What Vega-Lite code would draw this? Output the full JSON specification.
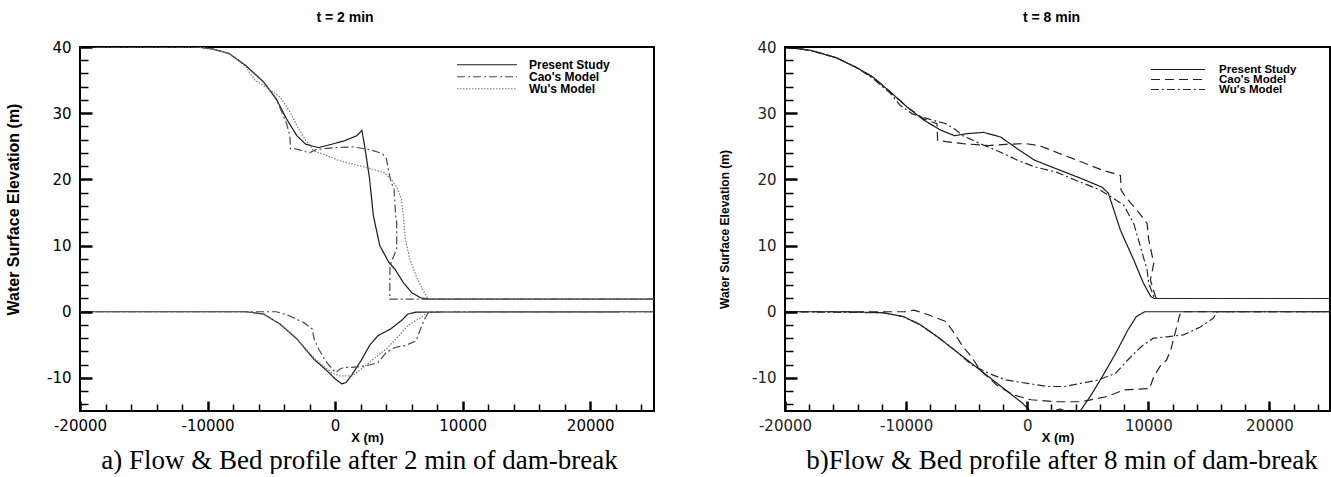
{
"$schema":"https://vega.github.io/schema/vega-lite/v6.json",
"background":"white",
"padding":{"left":4,"top":10,"right":0,"bottom":0},
"config":{"view":{"stroke":"#000","strokeWidth":2},"font":"Liberation Sans","concat":{"spacing":62}},
"datasets":{
"a":[
{"m":"Present Study","k":"s","x":-20000,"y":40},{"m":"Present Study","k":"s","x":-10800,"y":40},{"m":"Present Study","k":"s","x":-9600,"y":39.7},{"m":"Present Study","k":"s","x":-8300,"y":39.0},{"m":"Present Study","k":"s","x":-7000,"y":37.2},{"m":"Present Study","k":"s","x":-5600,"y":34.7},{"m":"Present Study","k":"s","x":-4600,"y":32.1},{"m":"Present Study","k":"s","x":-3800,"y":29.1},{"m":"Present Study","k":"s","x":-3000,"y":26.6},{"m":"Present Study","k":"s","x":-2300,"y":25.3},{"m":"Present Study","k":"s","x":-1300,"y":24.8},{"m":"Present Study","k":"s","x":-300,"y":25.3},{"m":"Present Study","k":"s","x":700,"y":25.8},{"m":"Present Study","k":"s","x":1700,"y":26.6},{"m":"Present Study","k":"s","x":2100,"y":27.4},{"m":"Present Study","k":"s","x":2360,"y":24.5},{"m":"Present Study","k":"s","x":2700,"y":20.1},{"m":"Present Study","k":"s","x":3000,"y":14.5},{"m":"Present Study","k":"s","x":3500,"y":10.0},{"m":"Present Study","k":"s","x":4200,"y":7.5},{"m":"Present Study","k":"s","x":4700,"y":6.4},{"m":"Present Study","k":"s","x":5350,"y":4.4},{"m":"Present Study","k":"s","x":6000,"y":2.9},{"m":"Present Study","k":"s","x":6700,"y":2.1},{"m":"Present Study","k":"s","x":7350,"y":1.9},{"m":"Present Study","k":"s","x":25000,"y":1.9},
{"m":"Cao's Model","k":"s","x":-20000,"y":40},{"m":"Cao's Model","k":"s","x":-10800,"y":40},{"m":"Cao's Model","k":"s","x":-9600,"y":39.7},{"m":"Cao's Model","k":"s","x":-8300,"y":39.0},{"m":"Cao's Model","k":"s","x":-7000,"y":37.2},{"m":"Cao's Model","k":"s","x":-5600,"y":34.7},{"m":"Cao's Model","k":"s","x":-4600,"y":32.1},{"m":"Cao's Model","k":"s","x":-3800,"y":28.4},{"m":"Cao's Model","k":"s","x":-3550,"y":26.6},{"m":"Cao's Model","k":"s","x":-3500,"y":24.6},{"m":"Cao's Model","k":"s","x":-3300,"y":24.7},{"m":"Cao's Model","k":"s","x":-2000,"y":24.0},{"m":"Cao's Model","k":"s","x":-1500,"y":24.5},{"m":"Cao's Model","k":"s","x":0,"y":24.8},{"m":"Cao's Model","k":"s","x":1400,"y":24.9},{"m":"Cao's Model","k":"s","x":2700,"y":24.5},{"m":"Cao's Model","k":"s","x":3700,"y":23.9},{"m":"Cao's Model","k":"s","x":4030,"y":23.1},{"m":"Cao's Model","k":"s","x":4200,"y":21.1},{"m":"Cao's Model","k":"s","x":4400,"y":19.6},{"m":"Cao's Model","k":"s","x":4620,"y":18.5},{"m":"Cao's Model","k":"s","x":4750,"y":14.5},{"m":"Cao's Model","k":"s","x":4830,"y":13.5},{"m":"Cao's Model","k":"s","x":4830,"y":9.5},{"m":"Cao's Model","k":"s","x":4510,"y":8.0},{"m":"Cao's Model","k":"s","x":4300,"y":6.9},{"m":"Cao's Model","k":"s","x":4290,"y":1.9},{"m":"Cao's Model","k":"s","x":25000,"y":1.9},
{"m":"Wu's Model","k":"s","x":-20000,"y":40},{"m":"Wu's Model","k":"s","x":-10800,"y":40},{"m":"Wu's Model","k":"s","x":-9600,"y":39.7},{"m":"Wu's Model","k":"s","x":-8300,"y":39.0},{"m":"Wu's Model","k":"s","x":-7000,"y":37.0},{"m":"Wu's Model","k":"s","x":-6300,"y":35.0},{"m":"Wu's Model","k":"s","x":-5000,"y":33.4},{"m":"Wu's Model","k":"s","x":-4300,"y":32.4},{"m":"Wu's Model","k":"s","x":-3950,"y":31.4},{"m":"Wu's Model","k":"s","x":-3450,"y":29.9},{"m":"Wu's Model","k":"s","x":-2950,"y":27.9},{"m":"Wu's Model","k":"s","x":-2300,"y":25.9},{"m":"Wu's Model","k":"s","x":-1650,"y":24.3},{"m":"Wu's Model","k":"s","x":-650,"y":23.6},{"m":"Wu's Model","k":"s","x":350,"y":22.8},{"m":"Wu's Model","k":"s","x":2000,"y":22.0},{"m":"Wu's Model","k":"s","x":3000,"y":21.5},{"m":"Wu's Model","k":"s","x":3850,"y":21.0},{"m":"Wu's Model","k":"s","x":4350,"y":20.1},{"m":"Wu's Model","k":"s","x":4850,"y":18.8},{"m":"Wu's Model","k":"s","x":5200,"y":17.0},{"m":"Wu's Model","k":"s","x":5350,"y":14.5},{"m":"Wu's Model","k":"s","x":5500,"y":11.0},{"m":"Wu's Model","k":"s","x":5850,"y":8.0},{"m":"Wu's Model","k":"s","x":6350,"y":5.4},{"m":"Wu's Model","k":"s","x":6850,"y":3.4},{"m":"Wu's Model","k":"s","x":7300,"y":1.9},{"m":"Wu's Model","k":"s","x":25000,"y":1.9},
{"m":"Present Study","k":"b","x":-20000,"y":0},{"m":"Present Study","k":"b","x":-7000,"y":0},{"m":"Present Study","k":"b","x":-5600,"y":-0.35},{"m":"Present Study","k":"b","x":-4300,"y":-1.9},{"m":"Present Study","k":"b","x":-3000,"y":-4.1},{"m":"Present Study","k":"b","x":-1650,"y":-7.2},{"m":"Present Study","k":"b","x":-650,"y":-8.9},{"m":"Present Study","k":"b","x":30,"y":-10.2},{"m":"Present Study","k":"b","x":530,"y":-10.9},{"m":"Present Study","k":"b","x":860,"y":-10.7},{"m":"Present Study","k":"b","x":1360,"y":-9.4},{"m":"Present Study","k":"b","x":2030,"y":-7.4},{"m":"Present Study","k":"b","x":2700,"y":-5.1},{"m":"Present Study","k":"b","x":3360,"y":-3.6},{"m":"Present Study","k":"b","x":4360,"y":-2.6},{"m":"Present Study","k":"b","x":5190,"y":-1.35},{"m":"Present Study","k":"b","x":5700,"y":-0.35},{"m":"Present Study","k":"b","x":6350,"y":-0.05},{"m":"Present Study","k":"b","x":25000,"y":0},
{"m":"Cao's Model","k":"b","x":-20000,"y":0},{"m":"Cao's Model","k":"b","x":-4600,"y":0},{"m":"Cao's Model","k":"b","x":-3600,"y":-0.6},{"m":"Cao's Model","k":"b","x":-2500,"y":-1.6},{"m":"Cao's Model","k":"b","x":-1800,"y":-2.6},{"m":"Cao's Model","k":"b","x":-1650,"y":-4.1},{"m":"Cao's Model","k":"b","x":-1300,"y":-5.6},{"m":"Cao's Model","k":"b","x":-650,"y":-7.7},{"m":"Cao's Model","k":"b","x":30,"y":-9.2},{"m":"Cao's Model","k":"b","x":360,"y":-8.7},{"m":"Cao's Model","k":"b","x":700,"y":-8.4},{"m":"Cao's Model","k":"b","x":1360,"y":-8.4},{"m":"Cao's Model","k":"b","x":2360,"y":-8.2},{"m":"Cao's Model","k":"b","x":3360,"y":-7.7},{"m":"Cao's Model","k":"b","x":4030,"y":-6.1},{"m":"Cao's Model","k":"b","x":4690,"y":-5.4},{"m":"Cao's Model","k":"b","x":5520,"y":-5.1},{"m":"Cao's Model","k":"b","x":6350,"y":-4.4},{"m":"Cao's Model","k":"b","x":6690,"y":-2.6},{"m":"Cao's Model","k":"b","x":7020,"y":-1.1},{"m":"Cao's Model","k":"b","x":7350,"y":0},{"m":"Cao's Model","k":"b","x":25000,"y":0},
{"m":"Wu's Model","k":"b","x":-20000,"y":0},{"m":"Wu's Model","k":"b","x":-7000,"y":0},{"m":"Wu's Model","k":"b","x":-5600,"y":-0.35},{"m":"Wu's Model","k":"b","x":-4300,"y":-1.9},{"m":"Wu's Model","k":"b","x":-3000,"y":-4.1},{"m":"Wu's Model","k":"b","x":-1650,"y":-7.0},{"m":"Wu's Model","k":"b","x":-300,"y":-9.2},{"m":"Wu's Model","k":"b","x":360,"y":-9.7},{"m":"Wu's Model","k":"b","x":1360,"y":-9.7},{"m":"Wu's Model","k":"b","x":2030,"y":-8.7},{"m":"Wu's Model","k":"b","x":3030,"y":-7.1},{"m":"Wu's Model","k":"b","x":4030,"y":-5.6},{"m":"Wu's Model","k":"b","x":5020,"y":-3.6},{"m":"Wu's Model","k":"b","x":5690,"y":-2.1},{"m":"Wu's Model","k":"b","x":6690,"y":-0.9},{"m":"Wu's Model","k":"b","x":7350,"y":0},{"m":"Wu's Model","k":"b","x":25000,"y":0}
],
"b":[
{"m":"Present Study","k":"s","x":-20000,"y":40},{"m":"Present Study","k":"s","x":-17900,"y":39.5},{"m":"Present Study","k":"s","x":-15800,"y":38.4},{"m":"Present Study","k":"s","x":-14100,"y":36.9},{"m":"Present Study","k":"s","x":-12700,"y":35.4},{"m":"Present Study","k":"s","x":-11300,"y":33.2},{"m":"Present Study","k":"s","x":-9900,"y":30.9},{"m":"Present Study","k":"s","x":-8500,"y":28.9},{"m":"Present Study","k":"s","x":-7100,"y":27.4},{"m":"Present Study","k":"s","x":-6000,"y":26.6},{"m":"Present Study","k":"s","x":-5000,"y":26.9},{"m":"Present Study","k":"s","x":-3600,"y":27.1},{"m":"Present Study","k":"s","x":-2200,"y":26.4},{"m":"Present Study","k":"s","x":-800,"y":24.6},{"m":"Present Study","k":"s","x":600,"y":22.9},{"m":"Present Study","k":"s","x":2400,"y":21.6},{"m":"Present Study","k":"s","x":4500,"y":20.1},{"m":"Present Study","k":"s","x":6200,"y":18.8},{"m":"Present Study","k":"s","x":6700,"y":17.9},{"m":"Present Study","k":"s","x":7700,"y":12.3},{"m":"Present Study","k":"s","x":8800,"y":7.8},{"m":"Present Study","k":"s","x":9600,"y":4.3},{"m":"Present Study","k":"s","x":10200,"y":2.3},{"m":"Present Study","k":"s","x":10500,"y":2.0},{"m":"Present Study","k":"s","x":25000,"y":2.0},
{"m":"Cao's Model","k":"s","x":-20000,"y":40},{"m":"Cao's Model","k":"s","x":-17900,"y":39.5},{"m":"Cao's Model","k":"s","x":-15800,"y":38.4},{"m":"Cao's Model","k":"s","x":-14100,"y":36.9},{"m":"Cao's Model","k":"s","x":-12700,"y":35.4},{"m":"Cao's Model","k":"s","x":-11300,"y":33.2},{"m":"Cao's Model","k":"s","x":-9900,"y":30.9},{"m":"Cao's Model","k":"s","x":-8500,"y":29.1},{"m":"Cao's Model","k":"s","x":-7450,"y":28.4},{"m":"Cao's Model","k":"s","x":-7400,"y":25.9},{"m":"Cao's Model","k":"s","x":-6700,"y":25.7},{"m":"Cao's Model","k":"s","x":-5300,"y":25.4},{"m":"Cao's Model","k":"s","x":-3200,"y":25.1},{"m":"Cao's Model","k":"s","x":-1800,"y":25.3},{"m":"Cao's Model","k":"s","x":-100,"y":25.4},{"m":"Cao's Model","k":"s","x":1000,"y":25.1},{"m":"Cao's Model","k":"s","x":2400,"y":24.1},{"m":"Cao's Model","k":"s","x":4100,"y":22.9},{"m":"Cao's Model","k":"s","x":6200,"y":21.4},{"m":"Cao's Model","k":"s","x":7700,"y":20.6},{"m":"Cao's Model","k":"s","x":7750,"y":18.4},{"m":"Cao's Model","k":"s","x":8100,"y":17.4},{"m":"Cao's Model","k":"s","x":9300,"y":14.8},{"m":"Cao's Model","k":"s","x":9900,"y":13.3},{"m":"Cao's Model","k":"s","x":10030,"y":10.9},{"m":"Cao's Model","k":"s","x":10450,"y":7.3},{"m":"Cao's Model","k":"s","x":10170,"y":4.8},{"m":"Cao's Model","k":"s","x":10590,"y":2.3},{"m":"Cao's Model","k":"s","x":10700,"y":2.0},{"m":"Cao's Model","k":"s","x":25000,"y":2.0},
{"m":"Wu's Model","k":"s","x":-20000,"y":40},{"m":"Wu's Model","k":"s","x":-17900,"y":39.5},{"m":"Wu's Model","k":"s","x":-15800,"y":38.4},{"m":"Wu's Model","k":"s","x":-14100,"y":36.9},{"m":"Wu's Model","k":"s","x":-12700,"y":35.2},{"m":"Wu's Model","k":"s","x":-11300,"y":33.0},{"m":"Wu's Model","k":"s","x":-10500,"y":31.2},{"m":"Wu's Model","k":"s","x":-9500,"y":29.9},{"m":"Wu's Model","k":"s","x":-8100,"y":29.1},{"m":"Wu's Model","k":"s","x":-6700,"y":28.4},{"m":"Wu's Model","k":"s","x":-6000,"y":27.6},{"m":"Wu's Model","k":"s","x":-5300,"y":26.6},{"m":"Wu's Model","k":"s","x":-3900,"y":25.4},{"m":"Wu's Model","k":"s","x":-2200,"y":24.1},{"m":"Wu's Model","k":"s","x":-800,"y":22.9},{"m":"Wu's Model","k":"s","x":600,"y":21.9},{"m":"Wu's Model","k":"s","x":2400,"y":21.1},{"m":"Wu's Model","k":"s","x":4100,"y":19.8},{"m":"Wu's Model","k":"s","x":6000,"y":18.4},{"m":"Wu's Model","k":"s","x":7150,"y":17.1},{"m":"Wu's Model","k":"s","x":7970,"y":16.1},{"m":"Wu's Model","k":"s","x":8800,"y":13.3},{"m":"Wu's Model","k":"s","x":9350,"y":9.8},{"m":"Wu's Model","k":"s","x":9900,"y":6.3},{"m":"Wu's Model","k":"s","x":10030,"y":4.3},{"m":"Wu's Model","k":"s","x":10450,"y":2.3},{"m":"Wu's Model","k":"s","x":10600,"y":2.0},{"m":"Wu's Model","k":"s","x":25000,"y":2.0},
{"m":"Present Study","k":"b","x":-20000,"y":0},{"m":"Present Study","k":"b","x":-15000,"y":0},{"m":"Present Study","k":"b","x":-12000,"y":-0.15},{"m":"Present Study","k":"b","x":-11600,"y":-0.25},{"m":"Present Study","k":"b","x":-10200,"y":-0.75},{"m":"Present Study","k":"b","x":-8800,"y":-2.0},{"m":"Present Study","k":"b","x":-7400,"y":-3.8},{"m":"Present Study","k":"b","x":-6000,"y":-5.8},{"m":"Present Study","k":"b","x":-4600,"y":-7.8},{"m":"Present Study","k":"b","x":-3200,"y":-9.8},{"m":"Present Study","k":"b","x":-1800,"y":-11.8},{"m":"Present Study","k":"b","x":-400,"y":-13.8},{"m":"Present Study","k":"b","x":300,"y":-15.1},{"m":"Present Study","k":"b","x":1500,"y":-15.6},{"m":"Present Study","k":"b","x":2200,"y":-15.0},{"m":"Present Study","k":"b","x":2700,"y":-14.7},{"m":"Present Study","k":"b","x":3300,"y":-15.1},{"m":"Present Study","k":"b","x":4300,"y":-15.2},{"m":"Present Study","k":"b","x":5200,"y":-12.8},{"m":"Present Study","k":"b","x":6200,"y":-9.8},{"m":"Present Study","k":"b","x":7300,"y":-6.3},{"m":"Present Study","k":"b","x":8300,"y":-2.8},{"m":"Present Study","k":"b","x":9000,"y":-0.75},{"m":"Present Study","k":"b","x":9700,"y":0},{"m":"Present Study","k":"b","x":25000,"y":0},
{"m":"Cao's Model","k":"b","x":-20000,"y":0},{"m":"Cao's Model","k":"b","x":-10000,"y":0},{"m":"Cao's Model","k":"b","x":-9350,"y":0.25},{"m":"Cao's Model","k":"b","x":-8100,"y":-0.5},{"m":"Cao's Model","k":"b","x":-6700,"y":-1.5},{"m":"Cao's Model","k":"b","x":-6000,"y":-3.3},{"m":"Cao's Model","k":"b","x":-5300,"y":-5.3},{"m":"Cao's Model","k":"b","x":-4600,"y":-6.8},{"m":"Cao's Model","k":"b","x":-3900,"y":-8.8},{"m":"Cao's Model","k":"b","x":-2500,"y":-11.1},{"m":"Cao's Model","k":"b","x":-1100,"y":-12.6},{"m":"Cao's Model","k":"b","x":300,"y":-13.3},{"m":"Cao's Model","k":"b","x":2400,"y":-13.6},{"m":"Cao's Model","k":"b","x":4500,"y":-13.6},{"m":"Cao's Model","k":"b","x":6600,"y":-12.8},{"m":"Cao's Model","k":"b","x":8000,"y":-11.8},{"m":"Cao's Model","k":"b","x":9000,"y":-11.7},{"m":"Cao's Model","k":"b","x":10100,"y":-11.6},{"m":"Cao's Model","k":"b","x":10450,"y":-9.8},{"m":"Cao's Model","k":"b","x":10950,"y":-8.3},{"m":"Cao's Model","k":"b","x":11500,"y":-7.3},{"m":"Cao's Model","k":"b","x":11850,"y":-5.8},{"m":"Cao's Model","k":"b","x":12200,"y":-3.3},{"m":"Cao's Model","k":"b","x":12550,"y":-0.75},{"m":"Cao's Model","k":"b","x":12700,"y":0},{"m":"Cao's Model","k":"b","x":25000,"y":0},
{"m":"Wu's Model","k":"b","x":-20000,"y":0},{"m":"Wu's Model","k":"b","x":-12000,"y":-0.15},{"m":"Wu's Model","k":"b","x":-11600,"y":-0.25},{"m":"Wu's Model","k":"b","x":-10200,"y":-0.75},{"m":"Wu's Model","k":"b","x":-8800,"y":-2.0},{"m":"Wu's Model","k":"b","x":-7400,"y":-3.8},{"m":"Wu's Model","k":"b","x":-6000,"y":-5.8},{"m":"Wu's Model","k":"b","x":-4600,"y":-8.0},{"m":"Wu's Model","k":"b","x":-3200,"y":-9.3},{"m":"Wu's Model","k":"b","x":-1800,"y":-10.3},{"m":"Wu's Model","k":"b","x":-100,"y":-10.8},{"m":"Wu's Model","k":"b","x":1700,"y":-11.3},{"m":"Wu's Model","k":"b","x":3100,"y":-11.3},{"m":"Wu's Model","k":"b","x":4500,"y":-10.8},{"m":"Wu's Model","k":"b","x":5900,"y":-10.3},{"m":"Wu's Model","k":"b","x":7300,"y":-9.3},{"m":"Wu's Model","k":"b","x":8300,"y":-7.3},{"m":"Wu's Model","k":"b","x":9400,"y":-5.3},{"m":"Wu's Model","k":"b","x":10400,"y":-4.0},{"m":"Wu's Model","k":"b","x":11500,"y":-3.8},{"m":"Wu's Model","k":"b","x":12900,"y":-3.5},{"m":"Wu's Model","k":"b","x":14300,"y":-2.3},{"m":"Wu's Model","k":"b","x":15350,"y":-1.0},{"m":"Wu's Model","k":"b","x":15700,"y":0},{"m":"Wu's Model","k":"b","x":25000,"y":0}
]
},
"hconcat":[
{"title":{"text":"a)  Flow & Bed profile after 2 min of dam-break","orient":"bottom","anchor":"middle","font":"Liberation Serif","fontSize":27,"fontWeight":"normal","color":"#000","offset":3,"dx":30},
 "vconcat":[{
  "width":574,"height":364,
  "title":{"text":"t = 2 min","fontSize":14,"fontWeight":"bold","color":"#000","offset":15,"dx":-22},
  "data":{"name":"a"},
  "layer":[
   {"mark":{"type":"line","clip":true,"strokeWidth":1.2},
    "encoding":{
     "x":{"field":"x","type":"quantitative","scale":{"domain":[-20000,25000],"nice":false,"zero":false},
       "axis":{"orient":"bottom","title":"X (m)","titleFontSize":13,"titleFontWeight":"bold","titleColor":"#000","titlePadding":-2,
         "values":[-20000,-10000,0,10000,20000],"labelExpr":"toString(datum.value)",
         "ticks":true,"tickSize":-10,"tickWidth":2.5,"tickColor":"#000","tickOpacity":1,"labelPadding":17,"labelFont":"DejaVu Sans","labelFontSize":15,"labelColor":"#000",
         "grid":false,"domain":false,"labelFlush":false,"labelOverlap":false,"zindex":2}},
     "y":{"field":"y","type":"quantitative","scale":{"domain":[-15,40],"nice":false,"zero":false},
       "axis":{"orient":"left","title":"Water Surface Elevation (m)","titleFontSize":16,"titleFontWeight":"bold","titleColor":"#000","titleX":-59,"titleY":162,
         "values":[-10,0,10,20,30,40],"labelExpr":"toString(datum.value)",
         "ticks":true,"tickSize":-12,"tickWidth":2.5,"tickColor":"#000","tickOpacity":1,"labelPadding":21,"labelFont":"DejaVu Sans","labelFontSize":15,"labelColor":"#000",
         "grid":false,"domain":false,"labelFlush":false,"labelOverlap":false,"zindex":2}},
     "detail":{"field":"k"},
     "color":{"field":"m","type":"nominal","scale":{"domain":["Present Study","Cao's Model","Wu's Model"],"range":["#1a1a1a","#4a4a4a","#7a7a7a"]},
       "legend":{"title":null,"orient":"none","legendX":376,"legendY":12,"symbolType":"stroke","symbolSize":3600,"symbolStrokeWidth":1.2,"clipHeight":11.5,"rowPadding":-2,"labelOffset":11,"labelFontSize":12,"labelFontWeight":"bold","labelColor":"#000","padding":0,"labelLimit":300}},
     "strokeDash":{"field":"m","type":"nominal","scale":{"domain":["Present Study","Cao's Model","Wu's Model"],"range":[[1,0],[8,3,2,3],[1.5,1.5]]},
       "legend":{"title":null,"orient":"none","legendX":376,"legendY":12,"symbolType":"stroke","symbolSize":3600,"symbolStrokeWidth":1.2,"clipHeight":11.5,"rowPadding":-2,"labelOffset":11,"labelFontSize":12,"labelFontWeight":"bold","labelColor":"#000","padding":0,"labelLimit":300}},
     "order":{"value":null}
    }},
   {"mark":{"type":"point","opacity":0,"clip":true},
    "encoding":{
     "x":{"field":"x","type":"quantitative","axis":{"orient":"bottom","title":null,"labels":false,"domain":false,"grid":false,"ticks":true,"tickSize":-7,"tickWidth":1.5,"tickColor":"#000","tickOpacity":1,"zindex":2,
       "values":[-18000,-16000,-14000,-12000,-8000,-6000,-4000,-2000,2000,4000,6000,8000,12000,14000,16000,18000,22000,24000]}},
     "y":{"field":"y","type":"quantitative","axis":{"orient":"left","title":null,"labels":false,"domain":false,"grid":false,"ticks":true,"tickSize":-8,"tickWidth":1.5,"tickColor":"#000","tickOpacity":1,"zindex":2,
       "values":[-14,-12,-8,-6,-4,-2,2,4,6,8,12,14,16,18,22,24,26,28,32,34,36,38]}}
    }}
  ],
  "resolve":{"axis":{"x":"independent","y":"independent"}}
 }]
},
{"title":{"text":"b)Flow & Bed profile after 8 min of dam-break","orient":"bottom","anchor":"middle","font":"Liberation Serif","fontSize":27,"fontWeight":"normal","color":"#000","offset":3,"dx":38},
 "vconcat":[{
  "width":545,"height":364,
  "title":{"text":"t = 8 min","fontSize":14,"fontWeight":"bold","color":"#000","offset":15,"dx":-6},
  "data":{"name":"b"},
  "layer":[
   {"mark":{"type":"line","clip":true,"strokeWidth":1.2},
    "encoding":{
     "x":{"field":"x","type":"quantitative","scale":{"domain":[-20000,25000],"nice":false,"zero":false},
       "axis":{"orient":"bottom","title":"X (m)","titleFontSize":13,"titleFontWeight":"bold","titleColor":"#000","titlePadding":-2,
         "values":[-20000,-10000,0,10000,20000],"labelExpr":"toString(datum.value)",
         "ticks":true,"tickSize":-10,"tickWidth":2.5,"tickColor":"#000","tickOpacity":1,"labelPadding":17,"labelFont":"DejaVu Sans","labelFontSize":15,"labelColor":"#222",
         "grid":false,"domain":false,"labelFlush":false,"labelOverlap":false,"zindex":2}},
     "y":{"field":"y","type":"quantitative","scale":{"domain":[-15,40],"nice":false,"zero":false},
       "axis":{"orient":"left","title":"Water Surface Elevation (m)","titleFontSize":12,"titleFontWeight":"bold","titleColor":"#000","titleX":-54,
         "values":[-10,0,10,20,30,40],"labelExpr":"toString(datum.value)",
         "ticks":true,"tickSize":-12,"tickWidth":2.5,"tickColor":"#000","tickOpacity":1,"labelPadding":21,"labelFont":"DejaVu Sans","labelFontSize":15,"labelColor":"#222",
         "grid":false,"domain":false,"labelFlush":false,"labelOverlap":false,"zindex":2}},
     "detail":{"field":"k"},
     "color":{"field":"m","type":"nominal","scale":{"domain":["Present Study","Cao's Model","Wu's Model"],"range":["#1a1a1a","#222222","#2a2a2a"]},
       "legend":{"title":null,"orient":"none","legendX":365,"legendY":18,"symbolType":"stroke","symbolSize":2916,"symbolStrokeWidth":1.2,"clipHeight":9,"rowPadding":-4,"labelOffset":13,"labelFontSize":11.5,"labelFontWeight":"bold","labelColor":"#000","padding":0,"labelLimit":300}},
     "strokeDash":{"field":"m","type":"nominal","scale":{"domain":["Present Study","Cao's Model","Wu's Model"],"range":[[1,0],[9,5],[8,3,2,3]]},
       "legend":{"title":null,"orient":"none","legendX":365,"legendY":18,"symbolType":"stroke","symbolSize":2916,"symbolStrokeWidth":1.2,"clipHeight":9,"rowPadding":-4,"labelOffset":13,"labelFontSize":11.5,"labelFontWeight":"bold","labelColor":"#000","padding":0,"labelLimit":300}},
     "order":{"value":null}
    }},
   {"mark":{"type":"point","opacity":0,"clip":true},
    "encoding":{
     "x":{"field":"x","type":"quantitative","axis":{"orient":"bottom","title":null,"labels":false,"domain":false,"grid":false,"ticks":true,"tickSize":-7,"tickWidth":1.5,"tickColor":"#000","tickOpacity":1,"zindex":2,
       "values":[-18000,-16000,-14000,-12000,-8000,-6000,-4000,-2000,2000,4000,6000,8000,12000,14000,16000,18000,22000,24000]}},
     "y":{"field":"y","type":"quantitative","axis":{"orient":"left","title":null,"labels":false,"domain":false,"grid":false,"ticks":true,"tickSize":-8,"tickWidth":1.5,"tickColor":"#000","tickOpacity":1,"zindex":2,
       "values":[-14,-12,-8,-6,-4,-2,2,4,6,8,12,14,16,18,22,24,26,28,32,34,36,38]}}
    }}
  ],
  "resolve":{"axis":{"x":"independent","y":"independent"}}
 }]
}
],
"resolve":{"scale":{"color":"independent","strokeDash":"independent"}}
}
